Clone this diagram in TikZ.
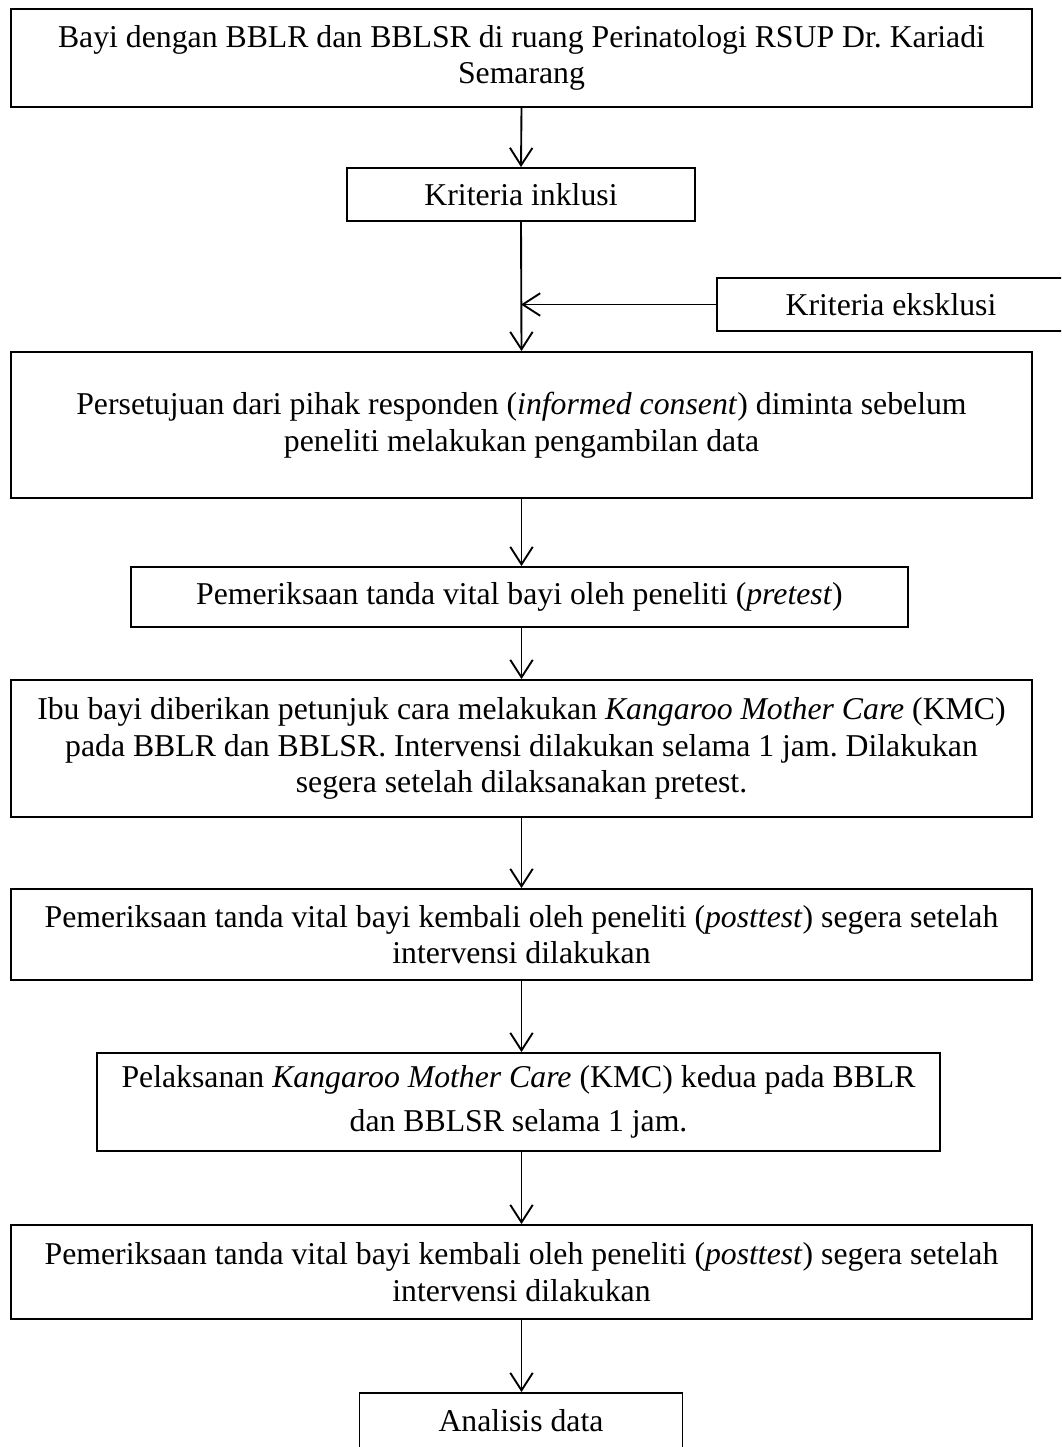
\documentclass[tikz,border=0pt]{standalone}
\usepackage{fontspec}
\setmainfont{Liberation Serif}
\usetikzlibrary{arrows.meta}
\frenchspacing

\begin{document}
\begin{tikzpicture}[x=0.4pt,y=-0.4pt,
    box/.style={draw,line width=0.75pt,align=center,inner sep=0pt,
      font=\fontsize{12.7}{14.6}\selectfont},
    arr/.style={-{Straight Barb[length=7pt,width=9pt]},line width=0.75pt}]
    \useasboundingbox (0,0) rectangle (1061,1447);
    \clip (0,0) rectangle (1061,1447);

    \node[box,minimum width=408.4pt,minimum height=39.2pt] (bayi) at (521.5,58)
        {Bayi dengan BBLR dan BBLSR di ruang Perinatologi RSUP Dr. Kariadi\\Semarang};
    \node[box,minimum width=139.2pt,minimum height=21.2pt] (inklusi) at (521,194.5)
        {Kriteria inklusi};
    \node[box,minimum width=139.2pt,minimum height=21.2pt] (eksklusi) at (891,304.5)
        {Kriteria eksklusi};
    \node[box,minimum width=408.4pt,minimum height=58.4pt] (consent) at (521.5,425)
        {Persetujuan dari pihak responden (\textit{informed consent}) diminta sebelum\\peneliti melakukan pengambilan data};
    \node[box,minimum width=310.8pt,minimum height=24pt] (pretest) at (519.5,597)
        {Pemeriksaan tanda vital bayi oleh peneliti (\textit{pretest})};
    \node[box,minimum width=408.4pt,minimum height=54.8pt] (kmc) at (521.5,748.5)
        {Ibu bayi diberikan petunjuk cara melakukan \textit{Kangaroo Mother Care} (KMC)\\pada BBLR dan BBLSR. Intervensi dilakukan selama 1 jam. Dilakukan\\segera setelah dilaksanakan pretest.};
    \node[box,minimum width=408.4pt,minimum height=36.4pt] (posttest) at (521.5,934.5)
        {Pemeriksaan tanda vital bayi kembali oleh peneliti (\textit{posttest}) segera setelah\\intervensi dilakukan};
    \node[box,minimum width=337.2pt,minimum height=39.2pt] (kmcdua) at (518.5,1102)
        {Pelaksanan \textit{Kangaroo Mother Care} (KMC) kedua pada BBLR\\[3pt]dan BBLSR selama 1 jam.};
    \node[box,minimum width=408.4pt,minimum height=37.6pt] (posttestdua) at (521.5,1272)
        {Pemeriksaan tanda vital bayi kembali oleh peneliti (\textit{posttest}) segera setelah\\intervensi dilakukan};
    \node[box,minimum width=129.2pt,minimum height=22.4pt] (analisis) at (521,1421)
        {Analisis data};

    \coordinate (gabung) at (inklusi.south |- eksklusi.west);

    \draw[arr] (bayi.south) -- (inklusi.north);
    \draw[arr] (inklusi.south) -- (consent.north);
    \draw[arr] (eksklusi.west) -- (gabung);
    \draw[arr] (consent.south) -- (consent.south |- pretest.north);
    \draw[arr] (pretest.south -| consent.south) -- (kmc.north);
    \draw[arr] (kmc.south) -- (posttest.north);
    \draw[arr] (posttest.south) -- (posttest.south |- kmcdua.north);
    \draw[arr] (kmcdua.south -| posttest.south) -- (posttestdua.north);
    \draw[arr] (posttestdua.south) -- (posttestdua.south |- analisis.north);
\end{tikzpicture}
\end{document}
